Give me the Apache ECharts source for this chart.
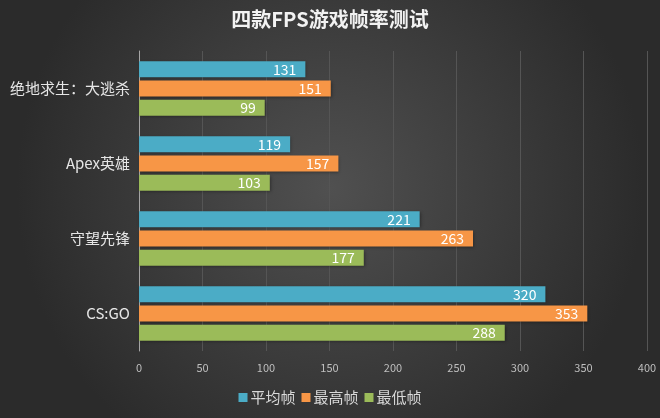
<!DOCTYPE html>
<html><head><meta charset="utf-8">
<script src="https://cdn.jsdelivr.net/npm/echarts@6/dist/echarts.min.js"></script>
<style>html,body{margin:0;padding:0;background:#3a3a3a}#c{width:660px;height:418px}</style>
</head><body><div id="c"></div>
<script>
const categories = ['绝地求生：大逃杀', 'Apex英雄', '守望先锋', 'CS:GO'];
const seriesNames = ['平均帧', '最高帧', '最低帧'];
const avgFps = [131, 119, 221, 320];
const maxFps = [151, 157, 263, 353];
const minFps = [99, 103, 177, 288];
const xTicks = [0, 50, 100, 150, 200, 250, 300, 350, 400];
const colors = ['#4bacc6', '#f79646', '#9bbb59'];

const chart = echarts.init(document.getElementById('c'));
const font = '"Noto Sans CJK SC", "Noto Sans", sans-serif';
function mk(name, data, color) {
  return {
    name, type: 'bar', data, barWidth: 16, barGap: '20%',
    itemStyle: { color, shadowColor: 'rgba(0,0,0,0.35)', shadowBlur: 3, shadowOffsetX: 1, shadowOffsetY: 1 },
    label: { show: true, position: 'insideRight', distance: 9, color: '#ffffff', fontSize: 14, fontFamily: font }
  };
}
chart.setOption({
  backgroundColor: {
    type: 'radial', x: 0.5, y: 0.45, r: 0.75,
    colorStops: [{ offset: 0, color: '#505050' }, { offset: 1, color: '#2b2b2b' }]
  },
  textStyle: { fontFamily: font },
  title: {
    text: '四款FPS游戏帧率测试', left: 'center', top: 4,
    textStyle: { color: '#f2f2f2', fontSize: 20, fontWeight: 'bold', fontFamily: font }
  },
  legend: {
    bottom: 8, left: 'center', itemWidth: 9, itemHeight: 9, itemGap: 6, icon: 'rect',
    textStyle: { color: '#d9d9d9', fontSize: 15, fontFamily: font, padding: [0, 0, 0, -2] },
    data: seriesNames
  },
  grid: { left: 139, right: 13, top: 51, bottom: 67 },
  xAxis: {
    type: 'value', min: 0, max: 400, interval: 50,
    axisLine: { show: false }, axisTick: { show: false },
    splitLine: { show: true, lineStyle: { color: '#555555', width: 1 } },
    axisLabel: { color: '#bfbfbf', fontSize: 11, margin: 11, formatter: v => xTicks.includes(v) ? String(v) : '' }
  },
  yAxis: {
    type: 'category', data: categories, inverse: true,
    axisLine: { show: true, lineStyle: { color: '#a6a6a6' } },
    axisTick: { show: false },
    axisLabel: { color: '#e6e6e6', fontSize: 15, margin: 9 }
  },
  series: [
    mk(seriesNames[0], avgFps, colors[0]),
    mk(seriesNames[1], maxFps, colors[1]),
    mk(seriesNames[2], minFps, colors[2])
  ]
});
</script></body></html>
